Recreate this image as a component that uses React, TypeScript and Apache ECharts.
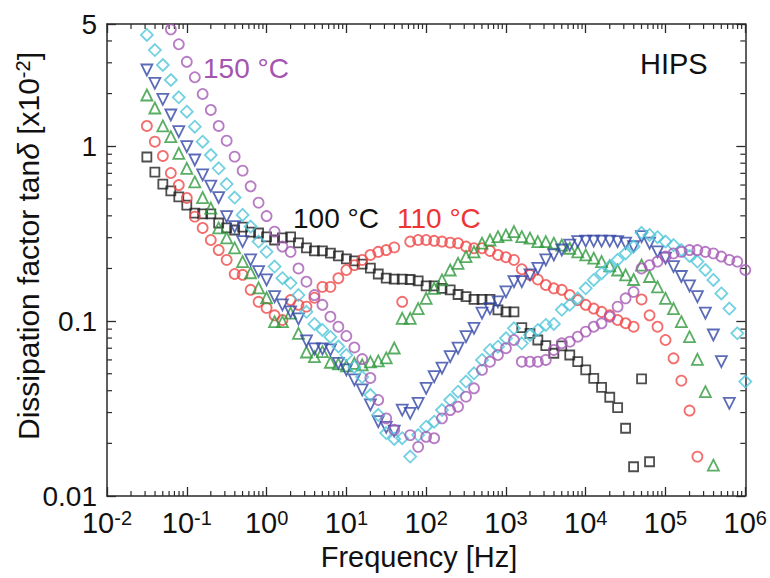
import React, { useEffect, useRef } from 'react';
import * as echarts from 'echarts';

// Measurement frequencies (Hz), ~10 points per decade
const FREQ_HZ = [
  0.0316, 0.0398, 0.0501, 0.0631, 0.0794,
  0.1, 0.126, 0.158, 0.2, 0.251, 0.316, 0.398, 0.501, 0.631, 0.794,
  1, 1.26, 1.58, 2, 2.51, 3.16, 3.98, 5.01, 6.31, 7.94,
  10, 12.6, 15.8, 20, 25.1, 31.6, 39.8, 50.1, 63.1, 79.4,
  100, 126, 158, 200, 251, 316, 398, 501, 631, 794,
  1000, 1260, 1580, 2000, 2510, 3160, 3980, 5010, 6310, 7940,
  10000, 12600, 15800, 20000, 25100, 31600, 39800, 50100, 63100, 79400,
  100000, 126000, 158000, 200000, 251000, 316000, 398000, 501000, 631000, 794000,
  1000000,
];

// tan delta [x10^-2], aligned with FREQ_HZ (null = no point)
const T100 = [
  0.868, 0.712, 0.608, 0.555, 0.513,
  0.461, 0.415, 0.410, 0.410, 0.364, 0.341, 0.332, 0.345, 0.323, 0.319,
  0.303, 0.291, 0.299, 0.303, 0.280, 0.262, 0.252, 0.252, 0.245, 0.236,
  0.227, 0.221, 0.212, 0.201, 0.186, 0.176, 0.174, 0.174, 0.173, 0.170,
  0.159, 0.159, 0.154, 0.151, 0.142, 0.138, 0.133, 0.133, 0.133, 0.116,
  0.113, 0.113, 0.0918, 0.0852, 0.078, 0.0724, 0.0655, 0.0721, 0.0640, 0.0586,
  0.0526, 0.0471, 0.0418, 0.0367, 0.0320, 0.0244, 0.0147, 0.0467, 0.0157, null,
  null, null, null, null, null, null, null, null, null, null,
  null,
];
const T110 = [
  1.306, 1.062, 0.880, 0.703, 0.600,
  0.506, 0.396, 0.341, 0.291, 0.255, 0.224, 0.186, 0.184, 0.151, 0.129,
  0.119, 0.108, 0.1015, 0.132, 0.124, 0.121, 0.136, 0.157, 0.157, 0.176,
  0.196, 0.209, 0.224, 0.239, 0.249, 0.255, 0.264, 0.129, 0.285, 0.291,
  0.291, 0.288, 0.285, 0.281, 0.279, 0.267, 0.261, 0.261, 0.252, 0.239,
  0.232, 0.224, 0.198, 0.184, 0.173, 0.161, 0.154, 0.151, 0.141, 0.132,
  0.124, 0.118, 0.113, 0.108, 0.1015, 0.0973, 0.0929, 0.133, 0.108, 0.0929,
  0.078, 0.0613, 0.0457, 0.0308, 0.0168, null, null, null, null, null,
  null,
];
const T120 = [
  1.963, 1.654, 1.306, 1.134, 0.911,
  0.748, 0.625, 0.509, 0.443, 0.341, 0.299, 0.262, 0.219, 0.189, 0.155,
  0.136, 0.0993, 0.0993, 0.111, 0.0852, 0.0666, 0.0626, 0.0669, 0.0582, 0.0569,
  0.0554, 0.0574, 0.0562, 0.0584, 0.0592, 0.0616, 0.0702, 0.1038, 0.1038, 0.118,
  0.135, 0.154, 0.172, 0.196, 0.214, 0.234, 0.249, 0.279, 0.291, 0.304,
  0.311, 0.325, 0.304, 0.298, 0.285, 0.285, 0.279, 0.272, 0.261, 0.249,
  0.239, 0.229, 0.219, 0.207, 0.196, 0.184, 0.173, 0.209, 0.180, 0.157,
  0.135, 0.118, 0.0993, 0.0815, 0.0605, 0.0395, 0.0150, null, null, null,
  null,
];
const T130 = [
  2.729, 2.290, 1.855, 1.509, 1.211,
  0.994, 0.834, 0.685, 0.592, 0.509, 0.396, 0.347, 0.285, 0.224, 0.192,
  0.172, 0.138, 0.124, 0.113, 0.1029, 0.077, 0.0693, 0.0693, 0.0684, 0.0574,
  0.0526, 0.0461, 0.0404, 0.0332, 0.0266, 0.0247, 0.0235, 0.0310, 0.0297, 0.0339,
  0.0413, 0.0481, 0.0538, 0.0626, 0.0700, 0.0815, 0.0910, 0.111, 0.118, 0.129,
  0.147, 0.168, 0.168, 0.184, 0.200, 0.224, 0.239, 0.255, 0.272, 0.285,
  0.287, 0.287, 0.287, 0.287, 0.285, 0.279, 0.267, 0.304, 0.279, 0.249,
  0.229, 0.205, 0.180, 0.159, 0.138, 0.111, 0.0833, 0.0586, 0.0339, null,
  null,
];
const T140 = [
  4.33, 3.55, 2.914, 2.392, 1.905,
  1.576, 1.294, 1.062, 0.891, 0.748, 0.608, 0.509, 0.405, 0.347, 0.285,
  0.249, 0.205, 0.176, 0.165, 0.141, 0.113, 0.0963, 0.089, 0.0812, 0.0716,
  0.064, 0.0547, 0.0479, 0.0378, 0.0291, 0.0229, 0.0212, 0.0214, 0.0168, 0.0223,
  0.0249, 0.0266, 0.0310, 0.0354, 0.0395, 0.0451, 0.0503, 0.060, 0.0684, 0.0714,
  0.0798, 0.091, 0.0747, 0.0833, 0.089, 0.0951, 0.0963, 0.116, 0.124, 0.135,
  0.154, 0.172, 0.188, 0.205, 0.224, 0.244, 0.267, 0.320, 0.311, 0.302,
  0.285, 0.272, 0.255, 0.236, 0.219, 0.196, 0.172, 0.144, 0.118, 0.0852,
  0.0451,
];
const T150 = [
  null, null, null, 4.66, 3.83,
  3.04, 2.48, 1.989, 1.612, 1.306, 1.076, 0.872, 0.725, 0.590, 0.476,
  0.399, 0.325, 0.267, 0.249, 0.200, 0.168, 0.141, 0.124, 0.106, 0.0929,
  0.0822, 0.0707, 0.0607, 0.0473, 0.0354, 0.0278, 0.0239, null, 0.0223, 0.0191,
  0.0218, 0.0214, 0.0278, 0.0310, 0.0324, 0.0370, 0.0413, 0.0526, 0.0586, 0.0640,
  0.0700, 0.078, 0.0586, 0.0586, 0.0586, 0.0600, 0.0684, 0.0747, 0.0763, 0.0815,
  0.0871, 0.0929, 0.0972, 0.106, 0.121, 0.135, 0.147, 0.200, 0.209, 0.219,
  0.234, 0.244, 0.249, 0.255, 0.255, 0.249, 0.244, 0.234, 0.224, 0.219,
  0.196,
];

const X_DECADES = [0.01, 0.1, 1, 10, 100, 1000, 10000, 100000];
const Y_DECADES = [0.01, 0.1];
const Y_TOP_MINOR = [2, 3, 4];
const MINOR_MULT = [2, 3, 4, 5, 6, 7, 8, 9];

const FONT = 'Liberation Sans, Arial, Helvetica, sans-serif';
const AXIS_COLOR = '#2a2a2a';
const DIAMOND = 'path://M5,0 L10,5 L5,10 L0,5 Z';

function pairs(vals: (number | null)[]) {
  const out: number[][] = [];
  vals.forEach((v, i) => {
    if (v != null) out.push([FREQ_HZ[i], v]);
  });
  return out;
}

function minorTickData() {
  const d: number[][] = [];
  X_DECADES.forEach((dec) => MINOR_MULT.forEach((m) => d.push([dec * m, 1, 0])));
  Y_DECADES.forEach((dec) => MINOR_MULT.forEach((m) => d.push([1, dec * m, 1])));
  Y_TOP_MINOR.forEach((m) => d.push([1, m, 1]));
  return d;
}

export default function App() {
  const ref = useRef<HTMLDivElement>(null);

  useEffect(() => {
    if (!ref.current) return;
    const chart = echarts.init(ref.current, null, { renderer: 'svg' });

    const scatter = (
      name: string,
      vals: (number | null)[],
      color: string,
      symbol: string,
      size: number,
      rotate = 0
    ) => ({
      name,
      type: 'scatter',
      data: pairs(vals),
      symbol,
      symbolSize: size,
      symbolRotate: rotate,
      itemStyle: { color: 'rgba(255,255,255,0)', borderColor: color, borderWidth: 1.8 },
      emphasis: { disabled: true },
      silent: true,
      xAxisIndex: 0,
      yAxisIndex: 0,
    });

    const baseAxis = {
      axisLine: { show: true, onZero: false, lineStyle: { color: AXIS_COLOR, width: 1.5 } },
      axisTick: { show: true, inside: true, length: 9, lineStyle: { color: AXIS_COLOR, width: 1.3 } },
      splitLine: { show: false },
      minorTick: { show: false },
    };

    const option: any = {
      animation: false,
      backgroundColor: '#ffffff',
      grid: { left: 107, right: 22, top: 24, bottom: 82 },
      xAxis: [
        {
          ...baseAxis,
          type: 'log',
          logBase: 10,
          min: 0.01,
          max: 1000000,
          interval: 1,
          position: 'bottom',
          axisLabel: {
            margin: 12,
            formatter: (v: any) => `{b|10}{s|${Math.round(Math.log10(Number(v)))}}`,
            rich: {
              b: { fontSize: 29, fontFamily: FONT, color: '#111', lineHeight: 30 },
              s: { fontSize: 20, fontFamily: FONT, color: '#111', verticalAlign: 'top', lineHeight: 20 },
            },
          },
        },
        {
          ...baseAxis,
          type: 'log',
          logBase: 10,
          min: 0.01,
          max: 1000000,
          interval: 1,
          position: 'top',
          axisLabel: { show: false },
        },
      ],
      yAxis: [
        {
          ...baseAxis,
          type: 'log',
          logBase: 10,
          min: 0.01,
          max: 5,
          interval: 1,
          position: 'left',
          axisLabel: {
            margin: 10,
            fontSize: 28,
            fontFamily: FONT,
            color: '#111',
            formatter: (v: any) => String(Number(Number(v).toPrecision(2))),
          },
        },
        {
          ...baseAxis,
          type: 'log',
          logBase: 10,
          min: 0.01,
          max: 5,
          interval: 1,
          position: 'right',
          axisLabel: { show: false },
        },
      ],
      series: [
        {
          type: 'custom',
          xAxisIndex: 0,
          yAxisIndex: 0,
          silent: true,
          clip: false,
          encode: { x: 0, y: 1 },
          data: minorTickData(),
          renderItem: (params: any, api: any) => {
            const cs = params.coordSys;
            const kind = api.value(2);
            const pt = api.coord([api.value(0), api.value(1)]);
            const L = 5;
            const style = { stroke: AXIS_COLOR, lineWidth: 1.2 };
            if (kind === 0) {
              const x = pt[0];
              return {
                type: 'group',
                children: [
                  { type: 'line', shape: { x1: x, y1: cs.y + cs.height, x2: x, y2: cs.y + cs.height - L }, style },
                  { type: 'line', shape: { x1: x, y1: cs.y, x2: x, y2: cs.y + L }, style },
                ],
              };
            }
            const y = pt[1];
            return {
              type: 'group',
              children: [
                { type: 'line', shape: { x1: cs.x, y1: y, x2: cs.x + L, y2: y }, style },
                { type: 'line', shape: { x1: cs.x + cs.width, y1: y, x2: cs.x + cs.width - L, y2: y }, style },
              ],
            };
          },
        },
        scatter('100 °C', T100, '#222222', 'rect', 9),
        scatter('110 °C', T110, '#f04848', 'circle', 10),
        scatter('120 °C', T120, '#2f9a3c', 'triangle', 11),
        scatter('130 °C', T130, '#3347a6', 'triangle', 11, 180),
        scatter('140 °C', T140, '#4fc6d9', DIAMOND, 12),
        scatter('150 °C', T150, '#a55bb5', 'circle', 10),
      ],
      graphic: [
        {
          type: 'text',
          x: 203,
          y: 68,
          silent: true,
          style: { text: '150 °C', fill: '#a455b0', fontSize: 28, fontFamily: FONT, align: 'left', verticalAlign: 'middle' },
        },
        {
          type: 'text',
          x: 293,
          y: 218,
          silent: true,
          style: { text: '100 °C', fill: '#111111', fontSize: 28, fontFamily: FONT, align: 'left', verticalAlign: 'middle' },
        },
        {
          type: 'text',
          x: 397,
          y: 218,
          silent: true,
          style: { text: '110 °C', fill: '#ee3535', fontSize: 28, fontFamily: FONT, align: 'left', verticalAlign: 'middle' },
        },
        {
          type: 'text',
          x: 640,
          y: 64,
          silent: true,
          style: { text: 'HIPS', fill: '#111111', fontSize: 29, fontFamily: FONT, align: 'left', verticalAlign: 'middle' },
        },
        {
          type: 'text',
          x: 419,
          y: 557,
          silent: true,
          style: { text: 'Frequency [Hz]', fill: '#111111', fontSize: 29, fontFamily: FONT, align: 'center', verticalAlign: 'middle' },
        },
        {
          type: 'text',
          x: 28,
          y: 246,
          rotation: Math.PI / 2,
          silent: true,
          style: {
            text: 'Dissipation factor tan{i|δ} [x10{s|-2}]',
            fill: '#111111',
            fontSize: 30,
            fontFamily: FONT,
            lineHeight: 31,
            align: 'center',
            verticalAlign: 'middle',
            rich: {
              i: { fontSize: 30, fontFamily: FONT, fontStyle: 'italic', fill: '#111111', lineHeight: 31 },
              s: { fontSize: 20, fontFamily: FONT, fill: '#111111', verticalAlign: 'top', lineHeight: 20 },
            },
          },
        },
      ],
    };

    chart.setOption(option);
    return () => chart.dispose();
  }, []);

  return (
    <div
      ref={ref}
      style={{ width: 770, height: 578, position: 'absolute', left: 0, top: 0, background: '#fff' }}
    />
  );
}
